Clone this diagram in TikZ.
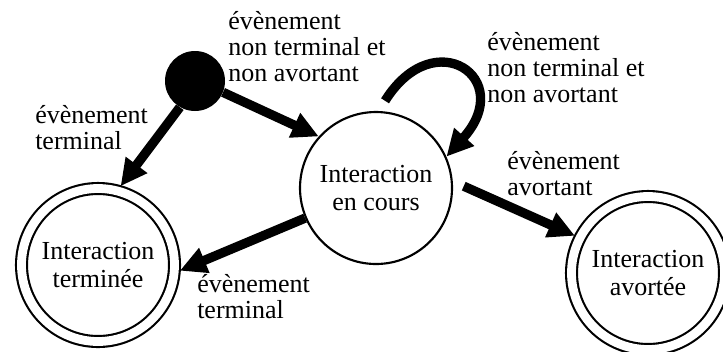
\documentclass[tikz,border=0pt]{standalone}
\usepackage{fontspec}
\setmainfont{Liberation Serif}
\usetikzlibrary{arrows.meta}

\begin{document}
\begin{tikzpicture}[x=0.75pt, y=-0.75pt,
  state/.style={circle, draw, line width=1.6pt, minimum size=114pt, inner sep=0pt,
    align=center, font=\fontsize{19.5}{21.5}\selectfont},
  final/.style={state, double, double distance=6.6pt, minimum size=114.75pt, outer sep=4.1pt},
  trans/.style={line width=7pt, -{Triangle[length=20pt, width=19pt]}},
  evtlabel/.style={anchor=base west, align=left, inner sep=0pt,
    font=\fontsize{19.5}{19.5}\selectfont}]
  \clip (0,0) rectangle (723,351);

  % states
  \node[circle, fill=black, minimum size=45pt, inner sep=0pt] (init) at (195,81) {};
  \node[state] (cours) at (376,188) {Interaction\\en cours};
  \node[final] (term) at (98,265) {Interaction\\terminée};
  \node[final] (abort) at (648,273) {Interaction\\avortée};

  % transitions
  \draw[trans] (init.240) -- (term.74);
  \draw[trans] (init.-22) -- (cours.138);
  \draw[trans, shorten <=9pt] (cours.88) to[out=58, in=48, looseness=3.3] (cours.24);
  \draw[trans] (cours.203) -- (term.-4);
  \draw[trans, shorten <=9pt] (cours.5) -- (abort.153);

  % labels (placed by the baseline of their last line)
  \node[evtlabel] (lblstart) at (228,81) {évènement\\non terminal et\\non avortant};
  \node[evtlabel] (lblterm) at (35,149) {évènement\\terminal};
  \node[evtlabel] (lblloop) at (487,102) {évènement\\non terminal et\\non avortant};
  \node[evtlabel] (lblabort) at (507,195) {évènement\\avortant};
  \node[evtlabel] (lblend) at (197,318) {évènement\\terminal};
\end{tikzpicture}
\end{document}
